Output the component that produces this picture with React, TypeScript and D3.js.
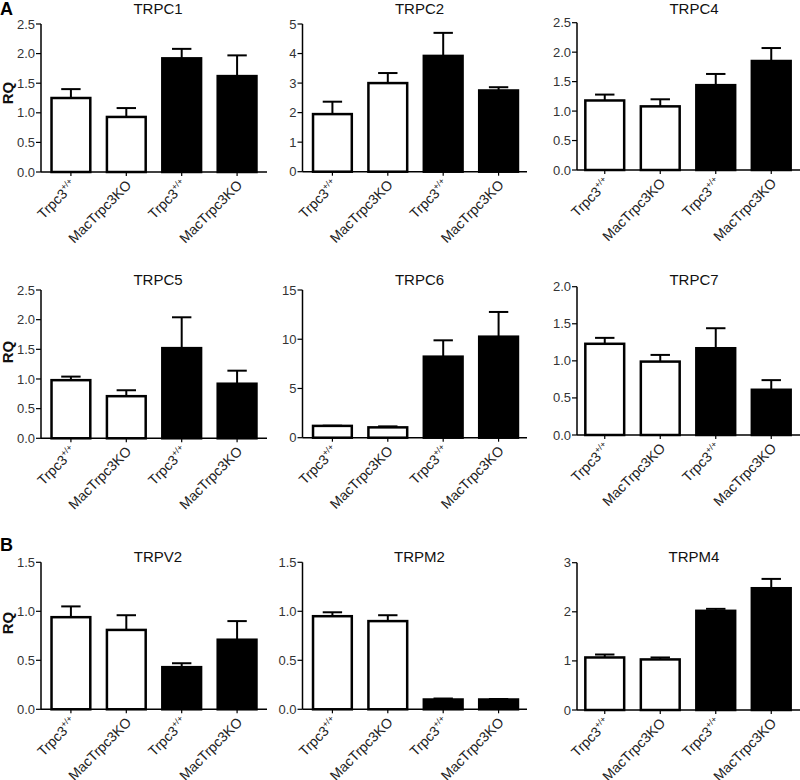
import React from "react";
import * as d3 from "d3";

const categories = ["Trpc3", "MacTrpc3KO", "Trpc3", "MacTrpc3KO"];
const categorySup = ["+/+", "", "+/+", ""];
const groupFill = ["#ffffff", "#ffffff", "#000000", "#000000"];

const trpc1Mean = [1.25, 0.93, 1.92, 1.62];
const trpc1Top = [1.4, 1.08, 2.08, 1.97];
const trpc2Mean = [1.95, 3.0, 3.92, 2.75];
const trpc2Top = [2.37, 3.34, 4.7, 2.86];
const trpc4Mean = [1.18, 1.08, 1.44, 1.85];
const trpc4Top = [1.28, 1.2, 1.63, 2.07];
const trpc5Mean = [0.98, 0.71, 1.52, 0.92];
const trpc5Top = [1.04, 0.81, 2.04, 1.14];
const trpc6Mean = [1.2, 1.05, 8.23, 10.26];
const trpc6Top = [1.22, 1.15, 9.89, 12.77];
const trpc7Mean = [1.23, 0.99, 1.17, 0.61];
const trpc7Top = [1.31, 1.08, 1.44, 0.74];
const trpv2Mean = [0.94, 0.81, 0.43, 0.71];
const trpv2Top = [1.05, 0.96, 0.47, 0.9];
const trpm2Mean = [0.95, 0.9, 0.1, 0.1];
const trpm2Top = [0.99, 0.96, 0.11, 0.105];
const trpm4Mean = [1.07, 1.03, 2.02, 2.48];
const trpm4Top = [1.13, 1.07, 2.06, 2.67];

const yMaxes = [2.5, 5, 2.5, 2.5, 15, 2.0, 1.5, 1.5, 3];
const yTickSteps = [0.5, 1, 0.5, 0.5, 5, 0.5, 0.5, 0.5, 1];
const yTickDecimals = [1, 0, 1, 1, 0, 1, 1, 1, 0];

const panels = [
  { title: "TRPC1", mean: trpc1Mean, top: trpc1Top },
  { title: "TRPC2", mean: trpc2Mean, top: trpc2Top },
  { title: "TRPC4", mean: trpc4Mean, top: trpc4Top },
  { title: "TRPC5", mean: trpc5Mean, top: trpc5Top },
  { title: "TRPC6", mean: trpc6Mean, top: trpc6Top },
  { title: "TRPC7", mean: trpc7Mean, top: trpc7Top },
  { title: "TRPV2", mean: trpv2Mean, top: trpv2Top },
  { title: "TRPM2", mean: trpm2Mean, top: trpm2Top },
  { title: "TRPM4", mean: trpm4Mean, top: trpm4Top },
];

// layout
const colAxisX = [41, 302.5, 577];
const colWidth = [226, 226, 222];
const colPadOuter = [0.19, 0.19, 0.15];
const colAxisEnd = [267, 527, 800];
const rowTop = [[24, 24, 22.7], [290, 290, 286.7], [562.3, 562.3, 562.7]];
const rowBottom = [[172, 171.7, 170], [438.3, 437.7, 435], [709.3, 709.3, 710]];
const rowTitleY = [14, 285, 562];
const rowRQY = [93, 352, 623];

const tickFont = "'Liberation Sans', Arial, sans-serif";

function Panel({ idx }: { idx: number }) {
  const p = panels[idx];
  const row = Math.floor(idx / 3);
  const col = idx % 3;
  const ax = colAxisX[col];
  const y0 = rowBottom[row][col];
  const yT = rowTop[row][col];
  const x = d3
    .scaleBand<number>()
    .domain([0, 1, 2, 3])
    .range([ax, ax + colWidth[col]])
    .paddingInner(0.3)
    .paddingOuter(colPadOuter[col]);
  const y = d3.scaleLinear().domain([0, yMaxes[idx]]).range([y0, yT]);
  const ticks = d3.range(0, yMaxes[idx] + 1e-9, yTickSteps[idx]);
  const fmt = d3.format(`.${yTickDecimals[idx]}f`);
  const bw = x.bandwidth();
  return (
    <g>
      <text
        x={ax + 117}
        y={rowTitleY[row]}
        textAnchor="middle"
        fontSize={15}
        fontFamily={tickFont}
        fill="#111"
      >
        {p.title}
      </text>
      {p.mean.map((m, i) => {
        const bx = x(i)!;
        const cx = bx + bw / 2;
        return (
          <g key={i}>
            <line
              x1={cx}
              x2={cx}
              y1={y(m)}
              y2={y(p.top[i])}
              stroke="#000"
              strokeWidth={2}
            />
            <line
              x1={cx - bw / 4}
              x2={cx + bw / 4}
              y1={y(p.top[i])}
              y2={y(p.top[i])}
              stroke="#000"
              strokeWidth={2}
            />
            <rect
              x={bx}
              y={y(m)}
              width={bw}
              height={y0 - y(m)}
              fill={groupFill[i]}
              stroke="#000"
              strokeWidth={2.5}
            />
          </g>
        );
      })}
      {/* y axis */}
      <line x1={ax} x2={ax} y1={yT} y2={y0} stroke="#000" strokeWidth={1.5} />
      {ticks.map((t) => (
        <g key={t}>
          <line x1={ax - 5} x2={ax} y1={y(t)} y2={y(t)} stroke="#000" strokeWidth={1.2} />
          <text
            x={ax - 6}
            y={y(t)}
            dy="0.35em"
            textAnchor="end"
            fontSize={13}
            fontFamily={tickFont}
            fill="#333"
          >
            {fmt(t)}
          </text>
        </g>
      ))}
      {/* x axis */}
      <line x1={ax} x2={colAxisEnd[col]} y1={y0} y2={y0} stroke="#000" strokeWidth={1.5} />
      {categories.map((c, i) => {
        const cx = x(i)! + bw / 2;
        const lx = cx + 6;
        const ly = y0 + 14;
        return (
          <g key={i}>
            <line x1={cx} x2={cx} y1={y0} y2={y0 + 4} stroke="#000" strokeWidth={1.2} />
            <text
              transform={`translate(${lx},${ly}) rotate(-45)`}
              textAnchor="end"
              fontSize={14}
              fontFamily={tickFont}
              fill="#222"
            >
              <tspan>{c}</tspan>
              {categorySup[i] ? (
                <tspan fontSize={8.5} dy={-6}>
                  {categorySup[i]}
                </tspan>
              ) : null}
            </text>
          </g>
        );
      })}
      {col === 0 ? (
        <text
          transform={`translate(12.5,${rowRQY[row]}) rotate(-90)`}
          textAnchor="middle"
          fontSize={15}
          fontWeight="bold"
          fontFamily={tickFont}
          fill="#111"
        >
          RQ
        </text>
      ) : null}
    </g>
  );
}

export default function App() {
  return (
    <svg
      width={800}
      height={780}
      style={{ position: "absolute", left: 0, top: 0, background: "#fff" }}
    >
      <rect width={800} height={780} fill="#fff" />
      <text x={0} y={15} fontSize={18} fontWeight="bold" fontFamily={tickFont}>
        A
      </text>
      <text x={0} y={551} fontSize={18} fontWeight="bold" fontFamily={tickFont}>
        B
      </text>
      {panels.map((_, i) => (
        <Panel key={i} idx={i} />
      ))}
    </svg>
  );
}
